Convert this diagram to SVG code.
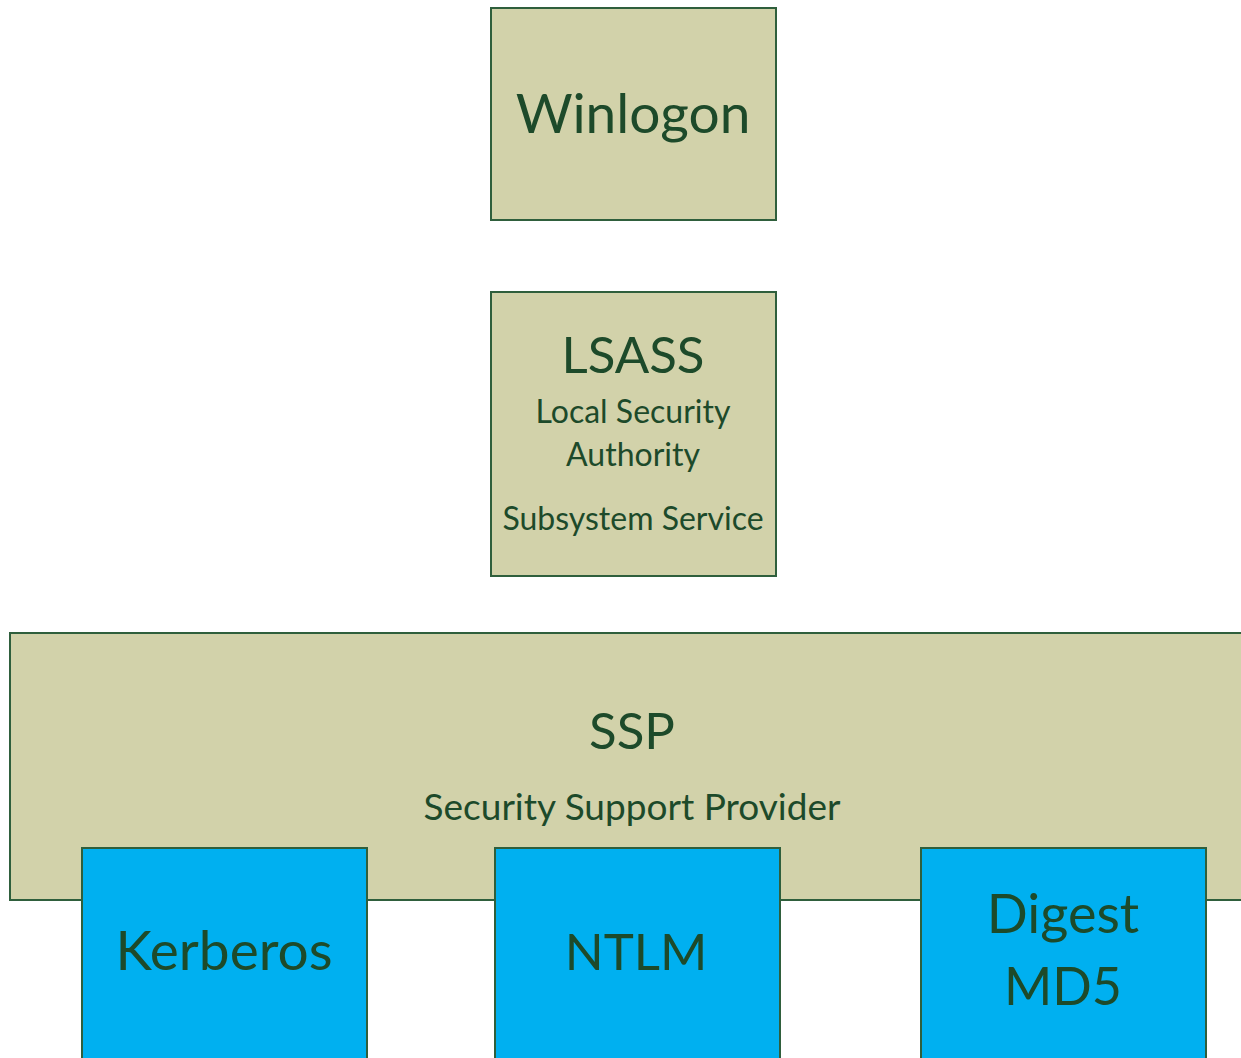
<svg xmlns="http://www.w3.org/2000/svg" width="1241" height="1058" viewBox="0 0 1241 1058">
  <style>
    .tan { fill: #d2d2aa; stroke: #2f5f3c; stroke-width: 2; }
    .blue { fill: #00b0f0; stroke: #2f5f3c; stroke-width: 2; }
    text { font-family: "Lato", "Open Sans", "Liberation Sans", sans-serif; fill: #1d4a2a; text-anchor: middle; }
    .big { font-size: 55px; }
    .mid { font-size: 51px; }
    .small { font-size: 32px; }
    .sub { font-size: 37px; }
  </style>
  <rect width="1241" height="1058" fill="#ffffff"/>

  <g id="winlogon">
    <rect class="tan" x="491" y="8" width="285" height="212"/>
    <text class="big" x="633" y="133">Winlogon</text>
  </g>

  <g id="lsass">
    <rect class="tan" x="491" y="292" width="285" height="284"/>
    <text class="mid" x="633" y="373">LSASS</text>
    <text class="small" x="633" y="423">Local Security</text>
    <text class="small" x="633" y="466">Authority</text>
    <text class="small" x="633" y="530">Subsystem Service</text>
  </g>

  <g id="ssp">
    <rect class="tan" x="10" y="633" width="1240" height="267"/>
    <text class="mid" x="632" y="749">SSP</text>
    <text class="sub" x="632" y="820">Security Support Provider</text>
  </g>

  <g id="kerberos">
    <rect class="blue" x="82" y="848" width="285" height="220"/>
    <text class="big" x="224" y="970">Kerberos</text>
  </g>

  <g id="ntlm">
    <rect class="blue" x="495" y="848" width="285" height="220"/>
    <text class="mid" x="636" y="970">NTLM</text>
  </g>

  <g id="digest">
    <rect class="blue" x="921" y="848" width="285" height="220"/>
    <text style="font-size:54px" x="1063" y="933">Digest</text>
    <text style="font-size:52px" x="1063" y="1005">MD5</text>
  </g>

  <g id="connectors"></g>
</svg>
